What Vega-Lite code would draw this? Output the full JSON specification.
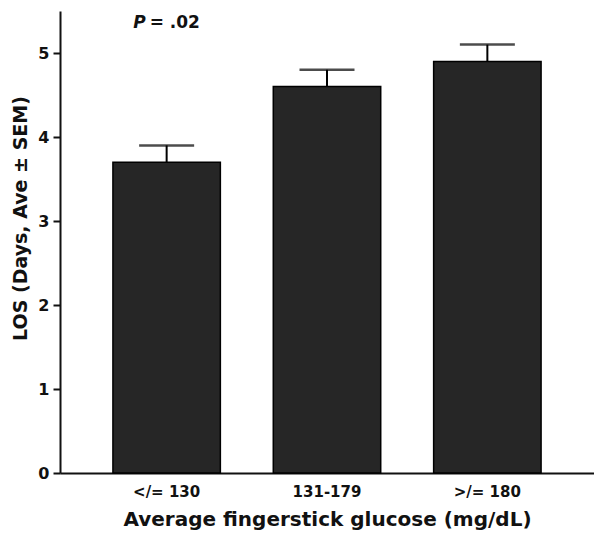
{
  "$schema": "https://vega.github.io/schema/vega-lite/v6.json",
  "width": 534,
  "height": 462,
  "autosize": "none",
  "padding": {"left": 60, "top": 11, "right": 0, "bottom": 62},
  "background": "white",
  "config": {
    "view": {"stroke": null},
    "font": "DejaVu Sans"
  },
  "data": {
    "values": [
      {"group": "</= 130", "los": 3.7, "upper": 3.9},
      {"group": "131-179", "los": 4.6, "upper": 4.8},
      {"group": ">/= 180", "los": 4.9, "upper": 5.1}
    ]
  },
  "encoding": {
    "x": {
      "field": "group",
      "type": "nominal",
      "sort": null,
      "scale": {"paddingInner": 0.33, "paddingOuter": 0.33},
      "axis": {
        "title": "Average fingerstick glucose (mg/dL)",
        "titleFont": "DejaVu Sans",
        "titleFontSize": 20,
        "titleFontWeight": "bold",
        "titleColor": "#111",
        "titlePadding": 10,
        "labelAngle": 0,
        "labelFont": "DejaVu Sans",
        "labelFontSize": 15,
        "labelFontWeight": "bold",
        "labelColor": "#111",
        "labelPadding": 11,
        "ticks": false,
        "domainColor": "#111",
        "domainWidth": 2
      }
    }
  },
  "layer": [
    {
      "mark": {"type": "bar", "fill": "#262626", "stroke": "#000", "strokeWidth": 1.5},
      "encoding": {
        "y": {
          "field": "los",
          "type": "quantitative",
          "scale": {"domain": [0, 5.5], "nice": false},
          "axis": {
            "title": "LOS (Days, Ave ± SEM)",
            "titleFont": "DejaVu Sans",
            "titleFontSize": 19,
            "titleFontWeight": "bold",
            "titleColor": "#111",
            "titlePadding": 7,
            "titleY": 207,
            "values": [0, 1, 2, 3, 4, 5],
            "format": "d",
            "labelFont": "DejaVu Sans",
            "labelFontSize": 16,
            "labelFontWeight": "bold",
            "labelColor": "#111",
            "labelPadding": 4,
            "tickSize": 7,
            "tickWidth": 2,
            "tickColor": "#111",
            "domainColor": "#111",
            "domainWidth": 2,
            "grid": false
          }
        }
      }
    },
    {
      "mark": {"type": "rule", "stroke": "#000", "strokeWidth": 2},
      "encoding": {
        "y": {"field": "los", "type": "quantitative"},
        "y2": {"field": "upper"}
      }
    },
    {
      "mark": {"type": "tick", "color": "#000", "size": 55, "thickness": 2.5, "orient": "horizontal"},
      "encoding": {
        "y": {"field": "upper", "type": "quantitative"}
      }
    },
    {
      "data": {"values": [{"group": "</= 130", "y": 5.3, "p": "P", "rest": "= .02"}]},
      "mark": {"type": "text", "fontStyle": "italic", "fontWeight": "bold", "fontSize": 17, "font": "DejaVu Sans", "align": "right", "baseline": "alphabetic", "dx": -21, "color": "#111"},
      "encoding": {
        "text": {"field": "p"},
        "y": {"field": "y", "type": "quantitative"}
      }
    },
    {
      "data": {"values": [{"group": "</= 130", "y": 5.3, "p": "P", "rest": "= .02"}]},
      "mark": {"type": "text", "fontWeight": "bold", "fontSize": 17, "font": "DejaVu Sans", "align": "left", "baseline": "alphabetic", "dx": -17, "color": "#111"},
      "encoding": {
        "text": {"field": "rest"},
        "y": {"field": "y", "type": "quantitative"}
      }
    }
  ]
}
